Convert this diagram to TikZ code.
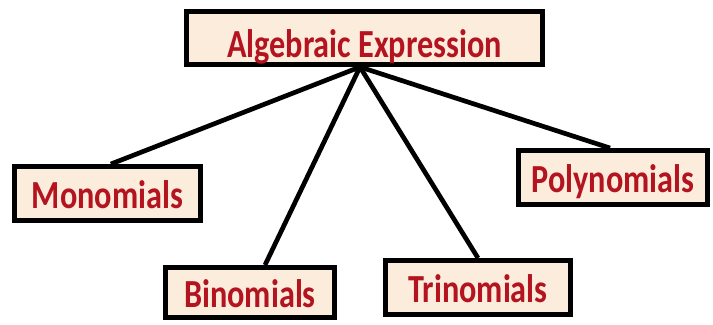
\documentclass[tikz,border=0pt]{standalone}
\usepackage{fontspec}
\newfontfamily\boxfont[FakeStretch=0.81]{Carlito}
\usetikzlibrary{positioning, calc}
\definecolor{boxfill}{HTML}{FCECDC}
\definecolor{boxtext}{HTML}{B3141F}

\begin{document}
\begin{tikzpicture}[
		x=0.03cm, y=-0.03cm,
		topic/.style={
			draw=black, line width=4.2pt, fill=boxfill, inner sep=0pt,
			text height=25pt, text depth=0pt,
			text=boxtext, font=\boxfont\bfseries\fontsize{34}{40}\selectfont
		},
		branch/.style={draw=black, line width=4pt}
		]
		
		\useasboundingbox (0,0) rectangle (713,324);
		
		% ==========================================
		% Root
		% ==========================================
		\node[topic, text height=33pt, minimum width=10.68cm, minimum height=1.59cm] (algexp) at (364.5,38) {Algebraic Expression};
		\coordinate (hub) at (360,67);
		
		% ==========================================
		% Kinds of expression
		% ==========================================
		\node[topic, minimum width=5.58cm, minimum height=1.62cm] (mono) at (107.5,193.5) {Monomials};
		\node[topic, minimum width=5.07cm, minimum height=1.5cm] (bino) at (250,292.5) {Binomials};
		\node[topic, minimum width=5.55cm, minimum height=1.62cm] (trino) at (478,287.5) {Trinomials};
		\node[topic, minimum width=5.67cm, minimum height=1.62cm] (poly) at (613,177.5) {Polynomials};
		
		% Branches from the root
		\draw[branch] (hub) -- ([xshift=0.1cm]mono.north);
		\draw[branch] (hub) -- ([xshift=0.45cm]bino.north);
		\draw[branch] (hub) -- (trino.north);
		\draw[branch] (hub) -- ([xshift=-0.09cm]poly.north);
		
	\end{tikzpicture}
\end{document}
